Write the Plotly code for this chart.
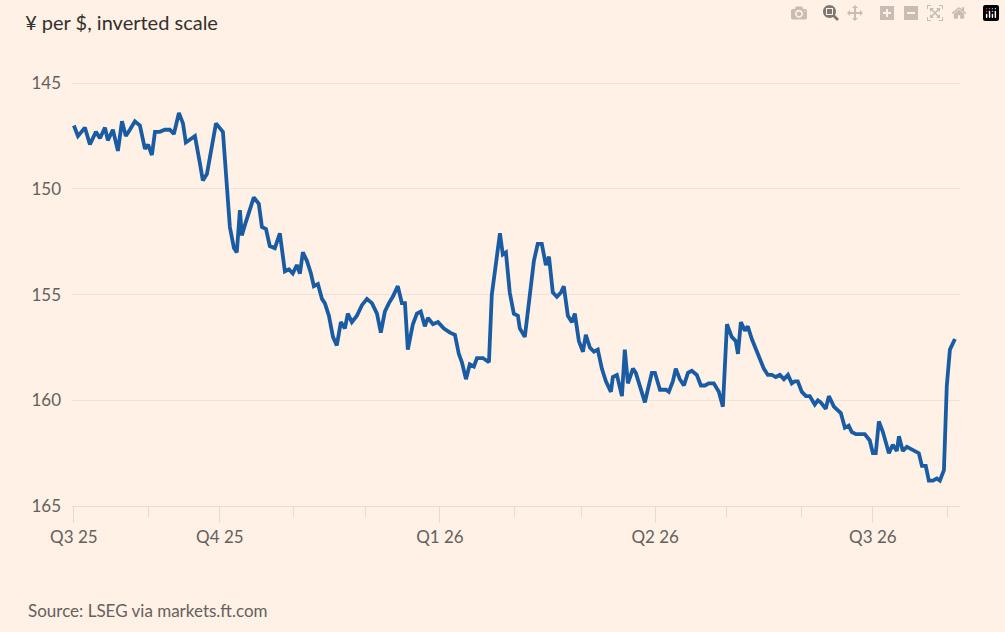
import pandas as pd
import plotly.graph_objects as go

# days since 2025-08-01 and yen per dollar
days = [0, 1.7, 4.6, 6.7, 9.2, 10.9, 13.0, 14.2, 16.3, 18.4, 20.1, 21.7, 23.4, 25.5, 27.6, 29.7,
        31.0, 32.6, 33.9, 35.9, 38.0, 40.1, 41.8, 43.9, 45.6, 46.8, 49.3, 50.6, 52.7, 53.9, 55.6,
        57.7, 59.4, 62.3, 64.0, 65.2, 66.9, 68.1, 69.4, 70.2, 71.5, 73.6, 75.2, 77.3, 78.6, 80.3,
        81.9, 84.0, 86.1, 88.2, 89.9, 91.5, 93.2, 94.5, 95.7, 97.4, 99.1, 100.3, 102.0, 103.7,
        104.9, 106.6, 108.3, 109.9, 111.6, 113.3, 114.5, 116.2, 118.3, 120.4, 122.5, 124.6, 126.7,
        128.3, 130.0, 131.7, 133.3, 135.4, 137.1, 138.4, 139.6, 141.7, 143.4, 145.0, 146.7, 148.0,
        150.1, 152.2, 154.7, 157.2, 159.3, 160.9, 162.2, 163.9, 165.5, 167.2, 168.5, 171.0, 173.5,
        174.7, 176.8, 178.1, 179.3, 180.6, 182.2, 183.9, 185.6, 186.4, 188.5, 189.8, 192.3, 193.9,
        195.6, 197.3, 198.6, 200.2, 201.9, 203.6, 204.8, 206.5, 208.2, 209.4, 211.1, 212.8, 214.0,
        215.7, 217.4, 219.0, 220.7, 222.4, 224.5, 225.3, 227.0, 229.1, 230.3, 231.6, 233.7, 234.9,
        236.6, 238.7, 239.9, 241.6, 242.9, 245.0, 247.5, 248.7, 250.4, 251.6, 253.3, 255.0, 256.7,
        258.3, 260.4, 262.1, 263.8, 265.4, 267.5, 269.6, 271.3, 273.0, 275.0, 276.7, 277.6, 278.8,
        280.5, 281.7, 283.4, 285.1, 286.7, 288.4, 290.1, 291.8, 293.4, 295.1, 296.8, 298.5, 300.1,
        301.4, 302.6, 304.3, 306.0, 307.6, 309.7, 311.0, 312.2, 314.3, 315.6, 317.7, 320.6, 322.3,
        323.9, 325.2, 326.9, 328.5, 330.6, 332.7, 334.0, 335.2, 336.5, 338.2, 339.4, 340.7, 342.3,
        344.0, 344.9, 346.5, 348.2, 349.9, 351.5, 353.2, 354.5, 356.1, 357.4, 359.1, 360.7, 362.0,
        363.7, 364.9, 366.2, 368.3]
yen = [147.0, 147.5, 147.1, 147.9, 147.3, 147.6, 147.1, 147.7, 147.2, 148.2, 146.8, 147.5, 147.2,
       146.8, 147.0, 148.1, 147.9, 148.4, 147.3, 147.3, 147.2, 147.2, 147.4, 146.4, 146.9, 147.8,
       147.6, 147.5, 148.8, 149.6, 149.3, 148.1, 146.9, 147.3, 150.3, 151.8, 152.8, 153.0, 151.0,
       152.2, 151.7, 151.0, 150.4, 150.7, 151.8, 151.9, 152.7, 152.8, 152.1, 153.9, 153.8, 154.0,
       153.6, 154.0, 153.0, 153.4, 154.0, 154.6, 154.5, 155.2, 155.4, 156.0, 157.0, 157.4, 156.3,
       156.6, 155.9, 156.3, 156.0, 155.5, 155.2, 155.4, 155.9, 156.8, 155.8, 155.4, 155.1, 154.6,
       155.4, 155.4, 157.6, 156.4, 155.9, 155.8, 156.5, 156.1, 156.4, 156.3, 156.6, 156.8, 156.9,
       157.8, 158.2, 159.0, 158.3, 158.4, 158.0, 158.0, 158.2, 155.0, 153.2, 152.1, 153.1, 153.0,
       154.9, 155.9, 156.0, 156.6, 157.0, 155.8, 153.4, 152.6, 152.6, 153.6, 153.2, 154.9, 155.1,
       154.9, 154.6, 156.0, 156.3, 155.9, 157.2, 157.7, 156.9, 157.5, 157.7, 157.6, 158.5, 159.1,
       159.6, 158.9, 158.8, 159.8, 157.6, 159.2, 158.5, 158.7, 159.3, 160.1, 159.5, 158.7, 158.7,
       159.5, 159.5, 159.6, 159.1, 158.5, 159.0, 159.3, 158.7, 158.6, 158.8, 159.3, 159.3, 159.2,
       159.2, 159.6, 160.3, 156.4, 157.0, 157.2, 157.8, 156.3, 156.7, 156.5, 157.1, 157.6, 158.0,
       158.5, 158.8, 158.8, 158.9, 158.8, 159.0, 158.8, 159.2, 159.1, 159.1, 159.6, 159.8, 159.8,
       160.2, 160.0, 160.1, 160.4, 159.8, 160.3, 160.6, 161.3, 161.2, 161.5, 161.6, 161.6, 161.6,
       161.9, 162.5, 162.5, 161.0, 161.5, 162.0, 162.5, 162.1, 162.4, 161.7, 162.4, 162.2, 162.3,
       162.4, 162.5, 163.1, 163.1, 163.8, 163.8, 163.7, 163.8, 163.3, 159.3, 157.6, 157.1]

tick_dates = ["2025-08-01", "2025-10-01", "2026-01-01", "2026-04-01", "2026-07-01"]
tick_labels = ["Q3 25", "Q4 25", "Q1 26", "Q2 26", "Q3 26"]

dates = pd.Timestamp("2025-08-01") + pd.to_timedelta(days, unit="D")

BG = "#FFF1E5"
GREY = "#66605c"
FONT = "Lato, Open Sans, sans-serif"

fig = go.Figure()
fig.add_trace(go.Scatter(x=dates, y=yen, mode="lines",
                         line=dict(color="#1a5ca3", width=3.8), hoverinfo="x+y"))

fig.update_layout(
    width=1005, height=632,
    paper_bgcolor=BG, plot_bgcolor=BG,
    margin=dict(l=72, r=45, t=60, b=126),
    showlegend=False,
    font=dict(family=FONT, size=17, color=GREY),
    title=dict(text="¥ per $, inverted scale", x=0.025, xanchor="left", y=0.975,
               yanchor="top", font=dict(size=20, color="#33302e")),
)
fig.update_yaxes(
    range=[165, 143.9], tickvals=[145, 150, 155, 160, 165],
    showgrid=True, gridcolor="#efe3d8", gridwidth=1, zeroline=False,
    ticks="", ticklabelstandoff=10, showline=False,
)
fig.update_xaxes(
    range=["2025-07-31 05:00", "2026-08-06 10:00"],
    tickvals=tick_dates, ticktext=tick_labels,
    ticks="outside", ticklen=16, tickcolor="#e8dccf", tickwidth=1,
    minor=dict(dtick="M1", tick0="2025-08-01", ticks="outside", ticklen=10,
               tickcolor="#e8dccf", showgrid=False),
    showgrid=False, showline=True, linecolor="#e8dccf", zeroline=False,
)
fig.add_annotation(text="Source: LSEG via markets.ft.com", xref="paper", yref="paper",
                   x=-0.052, y=-0.235, xanchor="left", yanchor="middle", showarrow=False,
                   font=dict(size=17, color=GREY))

# kill the browser's default page margin so the chart sits at 0,0
fig.write_html("out.html",
               post_script="document.body.style.margin='0';document.body.style.background='#FFF1E5';")
